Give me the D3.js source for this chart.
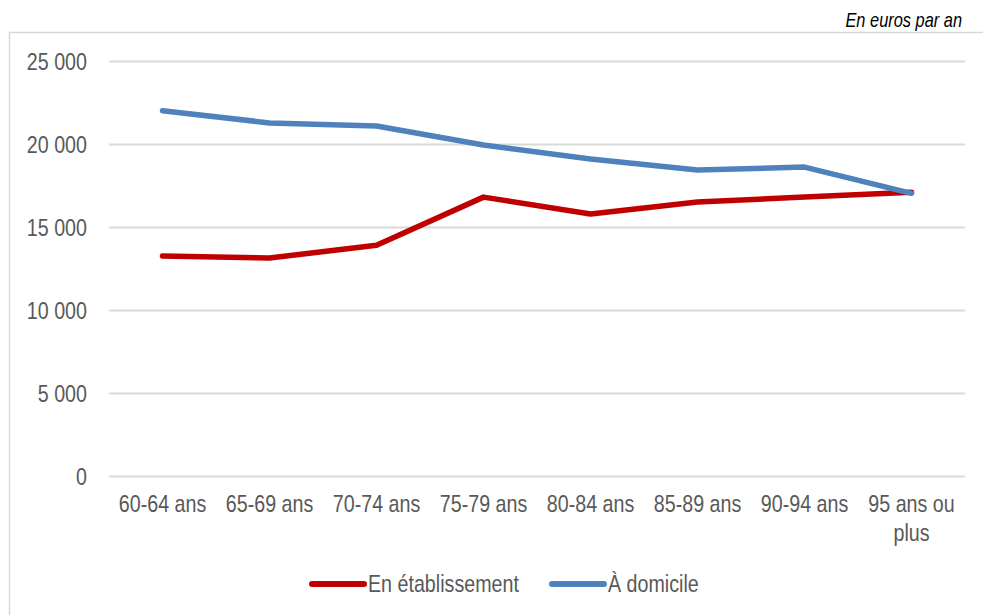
<!DOCTYPE html>
<html><head><meta charset="utf-8">
<script src="https://cdn.jsdelivr.net/npm/d3@7"></script>
<style>
html,body{margin:0;padding:0;background:#fff;}
svg{display:block;}
text{font-family:"Liberation Sans",Arial,sans-serif;}
</style></head>
<body>
<svg id="chart" width="983" height="615"></svg>
<script>
const categories = ["60-64 ans","65-69 ans","70-74 ans","75-79 ans","80-84 ans","85-89 ans","90-94 ans","95 ans ou plus"];
const etablissement = [13250, 13130, 13900, 16800, 15780, 16510, 16800, 17100];
const domicile = [22000, 21270, 21080, 19940, 19100, 18430, 18610, 17030];
const yTicks = [0, 5000, 10000, 15000, 20000, 25000];
const seriesNames = ["En établissement", "À domicile"];
const colors = ["#C00000", "#4F81BD"];

const SX = 0.82; // horizontal condensing to imitate a narrow font
const FS = 24;
const svg = d3.select("#chart");
const W = 983, H = 615;
const m = {left:109, right:18, top:61, bottom:139};

// frame
svg.append("rect").attr("x",9.5).attr("y",32.5).attr("width",1000).attr("height",700)
  .attr("fill","none").attr("stroke","#D9D9D9").attr("stroke-width",1.5);

svg.append("text").attr("transform",`translate(962,27) scale(${SX},1)`).attr("text-anchor","end")
  .attr("font-style","italic").attr("font-size",20).attr("fill","#000").text("En euros par an");

const x = d3.scaleBand().domain(categories).range([m.left, W - m.right]);
const y = d3.scaleLinear().domain([0, 25000]).range([H - m.bottom, m.top]);

const fmt = v => d3.format(",")(v).replace(/,/g, " ");

// grid + y labels
const yAxis = d3.axisLeft(y).tickValues(yTicks).tickSize(-(W - m.right - m.left)).tickFormat(fmt).tickPadding(0);
const gy = svg.append("g").attr("transform",`translate(${m.left},0)`).call(yAxis);
gy.select(".domain").remove();
gy.selectAll(".tick line").attr("stroke","#D9D9D9").attr("stroke-width",2);
gy.selectAll(".tick text").attr("fill","#595959").attr("font-size",FS)
  .attr("x",(87 - m.left)/SX).attr("dy","0.36em").attr("transform",`scale(${SX},1)`)
  .style("font-family",'"Liberation Sans",Arial,sans-serif');

// x axis labels
const xAxis = d3.axisBottom(x).tickSize(0).tickPadding(19);
const gx = svg.append("g").attr("transform",`translate(0,${y(0)})`).call(xAxis);
gx.select(".domain").remove();
gx.selectAll(".tick text").attr("fill","#595959").attr("font-size",FS).attr("transform",`scale(${SX},1)`)
  .style("font-family",'"Liberation Sans",Arial,sans-serif')
  .each(function(d){
    if (d === "95 ans ou plus") {
      const t = d3.select(this); t.text(null);
      t.append("tspan").attr("x",0).attr("dy","0.71em").text("95 ans ou");
      t.append("tspan").attr("x",0).attr("dy","1.2em").text("plus");
    }
  });

const line = d3.line().x((d,i)=>x(categories[i]) + x.bandwidth()/2).y(d=>y(d));
[etablissement, domicile].forEach((s,i)=>{
  svg.append("path").datum(s).attr("d",line).attr("fill","none")
    .attr("stroke",colors[i]).attr("stroke-width",5.5)
    .attr("stroke-linejoin","round").attr("stroke-linecap","round");
});

// legend
const legX = [312, 552];
seriesNames.forEach((n,i)=>{
  svg.append("line").attr("x1",legX[i]).attr("x2",legX[i]+52).attr("y1",584).attr("y2",584)
    .attr("stroke",colors[i]).attr("stroke-width",6).attr("stroke-linecap","round");
  svg.append("text").attr("transform",`translate(${legX[i]+56},592) scale(${SX},1)`)
    .attr("font-size",FS).attr("fill","#595959").text(n);
});
</script>
</body></html>
